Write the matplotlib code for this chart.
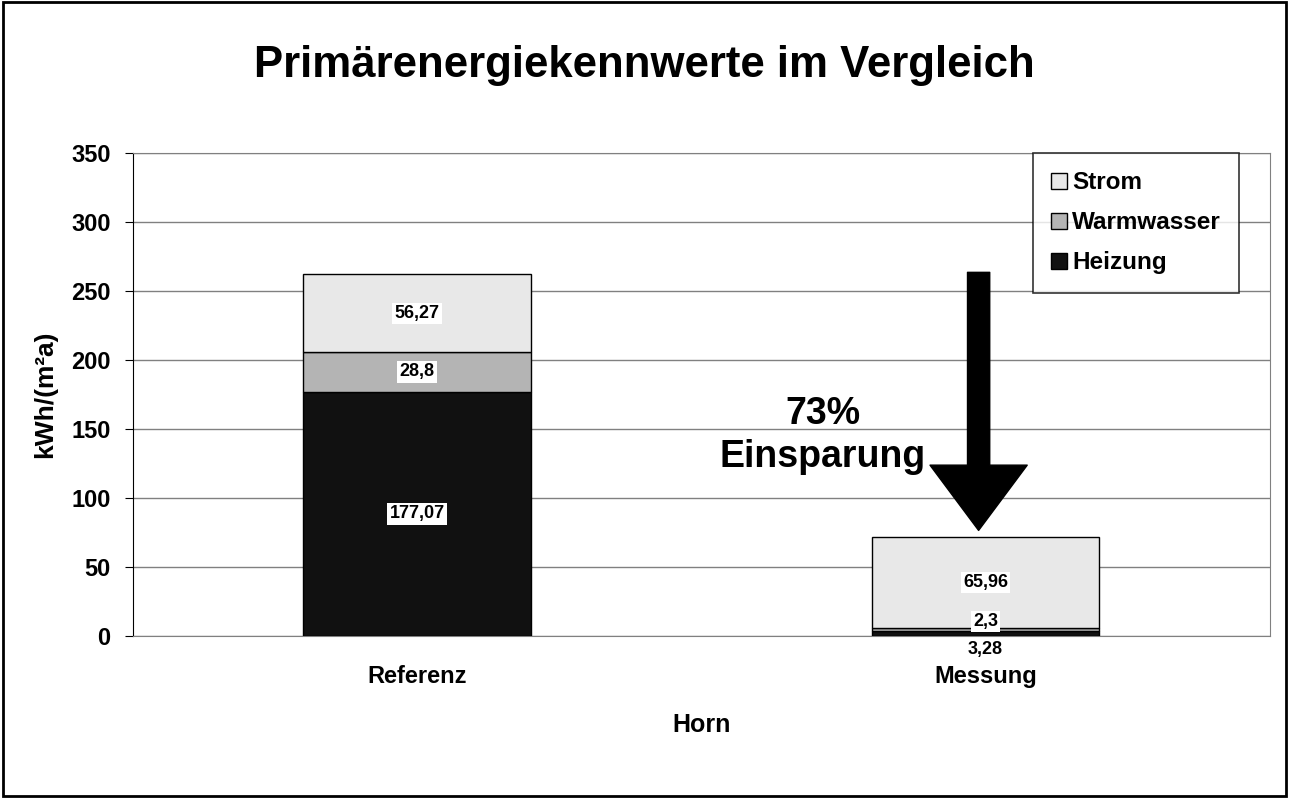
import matplotlib
matplotlib.use("Agg")
import matplotlib.pyplot as plt
from matplotlib.patches import Rectangle

plt.rcParams['font.family'] = ['Liberation Sans', 'DejaVu Sans']
plt.rcParams['font.weight'] = 'bold'

# data
categories = ['Referenz', 'Messung']
heizung = [177.07, 3.28]
warmwasser = [28.8, 2.3]
strom = [56.27, 65.96]
heizung_lbl = ['177,07', '3,28']
warmwasser_lbl = ['28,8', '2,3']
strom_lbl = ['56,27', '65,96']
savings_text = '73%\nEinsparung'

fig = plt.figure(figsize=(12.89, 7.98), dpi=100)
ax = fig.add_axes([0.103, 0.203, 0.882, 0.605])

x = list(range(len(categories)))
w = 0.4
bottom2 = heizung
bottom3 = [a + b for a, b in zip(heizung, warmwasser)]
totals = [a + b for a, b in zip(bottom3, strom)]

ax.bar(x, heizung, w, color='#111111', edgecolor='black', linewidth=1, label='Heizung', zorder=3)
ax.bar(x, warmwasser, w, bottom=bottom2, color='#b4b4b4', edgecolor='black', linewidth=1, label='Warmwasser', zorder=3)
ax.bar(x, strom, w, bottom=bottom3, color='#e8e8e8', edgecolor='black', linewidth=1, label='Strom', zorder=3)

box = dict(facecolor='white', edgecolor='none', pad=1.5)
for i in x:
    # small segments get their label pushed outside
    off_h = 0 if heizung[i] > 20 else -11
    ax.annotate(heizung_lbl[i], (i, heizung[i] / 2), xytext=(0, off_h), textcoords='offset points',
                ha='center', va='center', fontsize=13, fontweight='bold', bbox=box, zorder=5)
    off_w = 0 if warmwasser[i] > 20 else 6
    ax.annotate(warmwasser_lbl[i], (i, bottom2[i] + warmwasser[i] / 2), xytext=(0, off_w),
                textcoords='offset points', ha='center', va='center', fontsize=13,
                fontweight='bold', bbox=box, zorder=5)
    ax.annotate(strom_lbl[i], (i, bottom3[i] + strom[i] / 2), ha='center', va='center',
                fontsize=13, fontweight='bold', bbox=box, zorder=5)

# savings arrow
ax.annotate('', xy=(0.988, totals[1] + 5), xytext=(0.988, totals[0] + 1.5),
            arrowprops=dict(arrowstyle='simple,head_width=7.0,head_length=4.7,tail_width=1.6',
                            color='black', shrinkA=0, shrinkB=0), zorder=6)
ax.text(0.714, 145, savings_text, ha='center', va='center', fontsize=27,
        fontweight='bold', linespacing=1.25)

ax.set_xlim(-0.5, 1.5)
ax.set_ylim(0, 350)
ax.set_yticks(range(0, 351, 50))
ax.set_xticks(x)
ax.set_xticklabels(categories, fontsize=17, fontweight='bold')
ax.tick_params(axis='y', labelsize=17, direction='out', length=6, color='black', pad=10)
ax.tick_params(axis='x', length=0, pad=21)
ax.yaxis.grid(True, color='#808080', linewidth=1, zorder=0)
for s in ['top', 'right', 'bottom']:
    ax.spines[s].set_color('#808080')
ax.spines['left'].set_color('black')

ax.set_ylabel('kWh/(m²a)', fontsize=19, fontweight='bold', labelpad=10)
ax.set_xlabel('Horn', fontsize=18, fontweight='bold', labelpad=18)

fig.suptitle('Primärenergiekennwerte im Vergleich', fontsize=31.5, fontweight='bold',
             y=1 - 66 / 798, va='center')

h, l = ax.get_legend_handles_labels()
leg = ax.legend(h[::-1], l[::-1], loc='upper right', bbox_to_anchor=(0.973, 1.0),
                fontsize=17.5, frameon=True, fancybox=False, edgecolor='black',
                handlelength=0.65, handleheight=0.65, handletextpad=0.2,
                labelspacing=0.7, borderpad=0.75, borderaxespad=0)
leg.get_frame().set_linewidth(1.2)

fig.patches.append(Rectangle((0.002, 0.002), 0.996, 0.996, transform=fig.transFigure,
                             fill=False, edgecolor='black', linewidth=2))

fig.savefig('out.png', dpi=100)
